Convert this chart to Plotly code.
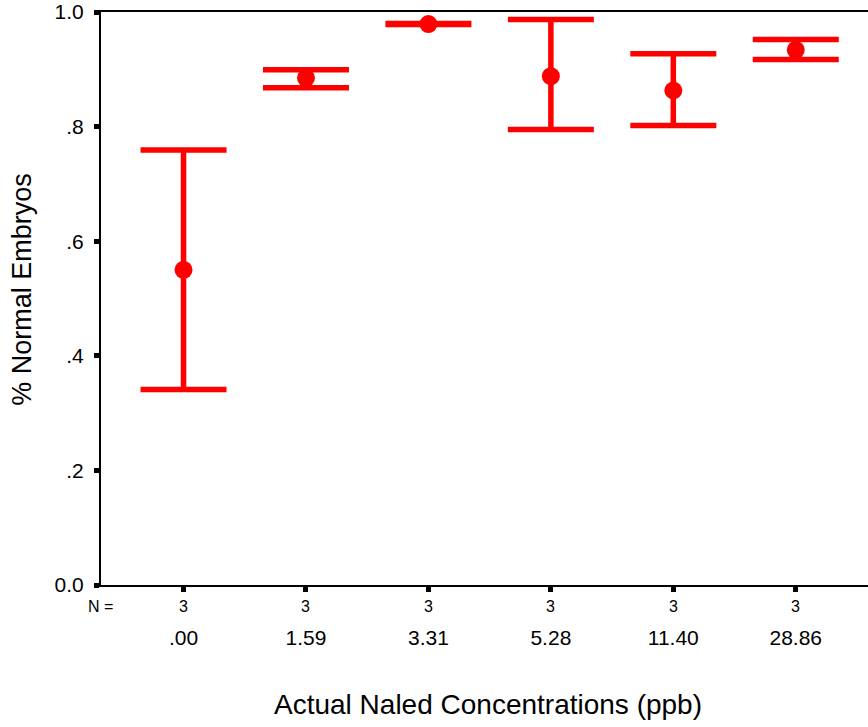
import plotly.graph_objects as go

concentrations = [".00", "1.59", "3.31", "5.28", "11.40", "28.86"]
means = [0.550, 0.885, 0.979, 0.888, 0.863, 0.934]
upper = [0.759, 0.899, 0.980, 0.987, 0.927, 0.952]
lower = [0.341, 0.868, 0.978, 0.795, 0.802, 0.917]
n_values = [3, 3, 3, 3, 3, 3]
y_ticks = [0.0, 0.2, 0.4, 0.6, 0.8, 1.0]
y_ticktext = ["0.0", ".2", ".4", ".6", ".8", "1.0"]

RED = "#ff0000"
FONT = "Liberation Sans, Arial, sans-serif"

err_plus = [u - m for u, m in zip(upper, means)]
err_minus = [m - l for m, l in zip(means, lower)]

fig = go.Figure()
fig.add_trace(go.Scatter(
    x=concentrations, y=means, mode="markers",
    marker=dict(color=RED, size=18),
    error_y=dict(type="data", array=err_plus, arrayminus=err_minus,
                 color=RED, thickness=5.5, width=43, visible=True),
    cliponaxis=False, showlegend=False,
))

annotations = [
    dict(text="N =", x=-0.0013, y=-0.0375, xref="paper", yref="paper",
         showarrow=False, font=dict(size=16, color="black", family=FONT),
         xanchor="center", yanchor="middle"),
    dict(text="% Normal Embryos", x=-0.103, y=0.517, xref="paper", yref="paper",
         showarrow=False, textangle=-90, font=dict(size=27, color="black", family=FONT),
         xanchor="center", yanchor="middle"),
    dict(text="Actual Naled Concentrations (ppb)", x=0.5046, y=-0.2084,
         xref="paper", yref="paper", showarrow=False,
         font=dict(size=28, color="black", family=FONT),
         xanchor="center", yanchor="middle"),
]
for i, n in enumerate(n_values):
    annotations.append(dict(text=str(n), x=i, y=-0.0375, xref="x", yref="paper",
                            showarrow=False, font=dict(size=16, color="black", family=FONT),
                            xanchor="center", yanchor="middle"))

fig.update_layout(
    width=868, height=727,
    margin=dict(l=101, r=0, t=12, b=142, pad=0),
    paper_bgcolor="white", plot_bgcolor="white",
    font=dict(family=FONT, color="black"),
    annotations=annotations,
    xaxis=dict(
        type="category", range=[-0.674, 5.59],
        showline=True, linecolor="black", linewidth=2, mirror=True,
        ticks="outside", ticklen=5, tickwidth=5, tickcolor="black",
        showgrid=False, zeroline=False,
        tickfont=dict(size=21, family=FONT, color="black"),
        ticklabelstandoff=28,
    ),
    yaxis=dict(
        range=[0, 1], tickvals=y_ticks, ticktext=y_ticktext,
        showline=True, linecolor="black", linewidth=2, mirror=False,
        ticks="outside", ticklen=5, tickwidth=5, tickcolor="black",
        showgrid=False, zeroline=False,
        tickfont=dict(size=21, family=FONT, color="black"),
        ticklabelstandoff=6,
    ),
)

fig.write_html("out.html")
